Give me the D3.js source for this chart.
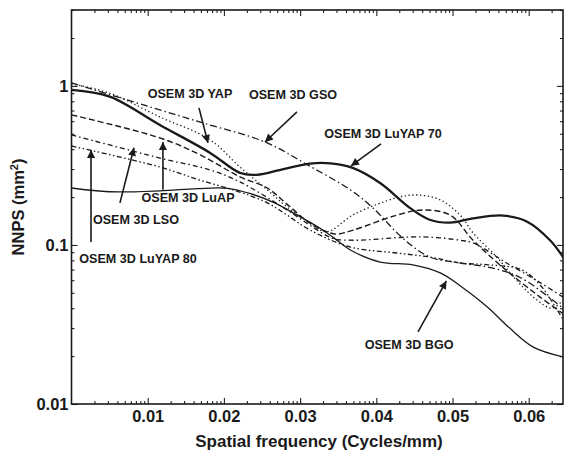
<!DOCTYPE html>
<html>
<head>
<meta charset="utf-8">
<script src="https://cdn.jsdelivr.net/npm/d3@7"></script>
<style>
  body { margin: 0; background: #fff; }
  text { font-family: "Liberation Sans", Arial, sans-serif; font-weight: bold; fill: #1a1a1a; }
</style>
</head>
<body>
<script>
// NNPS curves, values as [frequency, nnps]
const luyap70 = [[0,0.944],[0.005,0.856],[0.0116,0.568],[0.0182,0.379],[0.0221,0.284],[0.0243,0.276],[0.0278,0.300],[0.0313,0.325],[0.034,0.326],[0.0369,0.305],[0.0405,0.245],[0.0444,0.171],[0.047,0.144],[0.0497,0.138],[0.0527,0.147],[0.0566,0.153],[0.0598,0.140],[0.0628,0.107],[0.0645,0.084]];
const bgo = [[0,0.228],[0.005,0.216],[0.0116,0.219],[0.0165,0.226],[0.0205,0.227],[0.0235,0.21],[0.0265,0.185],[0.0295,0.155],[0.0323,0.130],[0.0343,0.112],[0.0366,0.093],[0.0405,0.078],[0.0448,0.075],[0.0484,0.0667],[0.051,0.0554],[0.0545,0.041],[0.0575,0.030],[0.0606,0.0228],[0.0645,0.0198]];
const yap = [[0,1.03],[0.005,0.90],[0.0116,0.638],[0.0182,0.458],[0.0221,0.309],[0.0257,0.222],[0.0283,0.173],[0.0313,0.137],[0.0335,0.121],[0.037,0.155],[0.0427,0.198],[0.0454,0.206],[0.0484,0.192],[0.051,0.154],[0.0527,0.119],[0.0558,0.084],[0.0584,0.060],[0.0611,0.045],[0.063,0.040],[0.0645,0.045]];
const gso = [[0,1.045],[0.0116,0.706],[0.0175,0.58],[0.0254,0.444],[0.031,0.318],[0.0366,0.222],[0.0396,0.17],[0.0435,0.11],[0.047,0.084],[0.051,0.077],[0.055,0.072],[0.059,0.062],[0.0645,0.040]];
const luap = [[0,0.657],[0.0116,0.471],[0.0169,0.368],[0.0221,0.268],[0.0257,0.228],[0.0283,0.18],[0.0313,0.137],[0.0335,0.121],[0.0348,0.117],[0.037,0.124],[0.0427,0.154],[0.0461,0.166],[0.0497,0.154],[0.0527,0.107],[0.0571,0.069],[0.0615,0.047],[0.0645,0.037]];
const lso = [[0,0.492],[0.0116,0.352],[0.0182,0.296],[0.0221,0.249],[0.0283,0.166],[0.0313,0.133],[0.0343,0.110],[0.037,0.107],[0.044,0.112],[0.047,0.112],[0.051,0.107],[0.0527,0.103],[0.0571,0.077],[0.0615,0.058],[0.0645,0.047]];
const luyap80 = [[0,0.419],[0.0116,0.309],[0.0168,0.256],[0.0221,0.215],[0.0257,0.184],[0.0283,0.154],[0.0313,0.124],[0.0366,0.097],[0.0427,0.089],[0.047,0.084],[0.051,0.077],[0.0547,0.075],[0.059,0.070],[0.0615,0.056],[0.0645,0.034]];

const xMajor = [0.01, 0.02, 0.03, 0.04, 0.05, 0.06];
const yMajor = [0.01, 0.1, 1];

// labels with arrows: label point, arrow start, arrow tip (data units)
const notes = [
  {text: "OSEM 3D YAP",      at: [0.01555, 0.891], from: [0.01673, 0.727], to: [0.01791, 0.438]},
  {text: "OSEM 3D GSO",      at: [0.02907, 0.878], from: [0.02959, 0.686], to: [0.02539, 0.444]},
  {text: "OSEM 3D LuYAP 70", at: [0.04088, 0.499], from: [0.04062, 0.432], to: [0.03668, 0.314]},
  {text: "OSEM 3D LuAP",     at: [0.01529, 0.198], from: [0.0120, 0.222],  to: [0.0120, 0.444]},
  {text: "OSEM 3D LSO",      at: [0.00846, 0.1436], from: [0.00636, 0.184], to: [0.0082, 0.408]},
  {text: "OSEM 3D LuYAP 80", at: [0.00873, 0.0817], from: [0.00256, 0.1045], to: [0.00256, 0.396]},
  {text: "OSEM 3D BGO",      at: [0.0443, 0.0235], from: [0.04547, 0.0284], to: [0.0492, 0.0594]}
];

const series = [
  {data: luyap70, width: 2.3, dash: null},
  {data: bgo, width: 1.3, dash: null},
  {data: yap, width: 1.3, dash: "1.3,2.6"},
  {data: gso, width: 1.3, dash: "7,3,1.5,3"},
  {data: luap, width: 1.4, dash: "6,3"},
  {data: lso, width: 1.3, dash: "5,3,1.5,3"},
  {data: luyap80, width: 1.3, dash: "5,2.5,1.5,2.5,1.5,2.5"}
];

const width = 565, height = 455;
const mLeft = 71.5, mRight = 563, mTop = 10, mBottom = 404;

const svg = d3.select("body").append("svg")
  .attr("width", width).attr("height", height);

const x = d3.scaleLinear().domain([0, 0.0645]).range([mLeft, mRight]);
const y = d3.scaleLog().domain([0.01, 3]).range([mBottom, mTop]);

// odd log-like minor ticks inside every 0.01 step, as in the original
let xMinor = [];
for (let i = 0; i < 7; i++) {
  for (let k = 2; k <= 9; k++) {
    let v = i * 0.01 + 0.01 * Math.log10(k);
    if (v < 0.0645) xMinor.push(v);
  }
}
let yMinor = [];
[0.01, 0.1, 1].forEach(d => {
  for (let k = 2; k <= 9; k++) if (d * k <= 3) yMinor.push(d * k);
});

let defs = svg.append("defs");
defs.append("clipPath").attr("id", "plot")
  .append("rect").attr("x", mLeft).attr("y", mTop)
  .attr("width", mRight - mLeft).attr("height", mBottom - mTop);

let marker = defs.append("marker")
  .attr("id", "head")
  .attr("viewBox", "0 0 10 10")
  .attr("refX", 10).attr("refY", 5)
  .attr("markerWidth", 11).attr("markerHeight", 8)
  .attr("markerUnits", "userSpaceOnUse")
  .attr("orient", "auto");
marker.append("path").attr("d", "M0,0L10,5L0,10Z").attr("fill", "#1a1a1a");

// axes, ticks pointing inward
function styleAxis(g) {
  g.select(".domain").remove();
  g.selectAll("line").attr("stroke", "#222").attr("stroke-width", 1.1);
  g.selectAll("text").style("font-size", "16.5px").attr("fill", "#1a1a1a");
}

svg.append("g").attr("transform", `translate(0,${mBottom})`)
  .call(d3.axisBottom(x).tickValues(xMajor).tickSize(-6).tickPadding(6).tickFormat(d3.format(".2f")))
  .call(styleAxis);
svg.append("g").attr("transform", `translate(0,${mBottom})`)
  .call(d3.axisBottom(x).tickValues(xMinor).tickSize(-3).tickFormat(""))
  .call(styleAxis);
svg.append("g").attr("transform", `translate(0,${mTop})`)
  .call(d3.axisTop(x).tickValues(xMajor).tickSize(-6).tickFormat(""))
  .call(styleAxis);
svg.append("g").attr("transform", `translate(0,${mTop})`)
  .call(d3.axisTop(x).tickValues(xMinor).tickSize(-3).tickFormat(""))
  .call(styleAxis);

svg.append("g").attr("transform", `translate(${mLeft},0)`)
  .call(d3.axisLeft(y).tickValues(yMajor).tickSize(-6).tickPadding(3).tickFormat(d => d3.format("~g")(d)))
  .call(styleAxis);
svg.append("g").attr("transform", `translate(${mLeft},0)`)
  .call(d3.axisLeft(y).tickValues(yMinor).tickSize(-3).tickFormat(""))
  .call(styleAxis);
svg.append("g").attr("transform", `translate(${mRight},0)`)
  .call(d3.axisRight(y).tickValues(yMajor).tickSize(-6).tickFormat(""))
  .call(styleAxis);
svg.append("g").attr("transform", `translate(${mRight},0)`)
  .call(d3.axisRight(y).tickValues(yMinor).tickSize(-3).tickFormat(""))
  .call(styleAxis);

// frame
svg.append("rect")
  .attr("x", mLeft).attr("y", mTop)
  .attr("width", mRight - mLeft).attr("height", mBottom - mTop)
  .attr("fill", "none").attr("stroke", "#1a1a1a").attr("stroke-width", 1.6);

// curves
const line = d3.line()
  .x(d => x(d[0]))
  .y(d => y(d[1]))
  .curve(d3.curveCatmullRom.alpha(0.5));

svg.append("g").attr("clip-path", "url(#plot)")
  .selectAll("path")
  .data(series)
  .enter()
  .append("path")
  .attr("d", d => line(d.data))
  .attr("fill", "none")
  .attr("stroke", "#1a1a1a")
  .attr("stroke-width", d => d.width)
  .attr("stroke-dasharray", d => d.dash);

// annotations
let ann = svg.append("g");
ann.selectAll("line")
  .data(notes)
  .enter()
  .append("line")
  .attr("x1", d => x(d.from[0])).attr("y1", d => y(d.from[1]))
  .attr("x2", d => x(d.to[0])).attr("y2", d => y(d.to[1]))
  .attr("stroke", "#1a1a1a").attr("stroke-width", 1.6)
  .attr("marker-end", "url(#head)");
ann.selectAll("text")
  .data(notes)
  .enter()
  .append("text")
  .attr("x", d => x(d.at[0])).attr("y", d => y(d.at[1]))
  .attr("text-anchor", "middle")
  .attr("dominant-baseline", "central")
  .style("font-size", "12.6px")
  .text(d => d.text);

// axis titles
svg.append("text")
  .attr("x", 319).attr("y", 447)
  .attr("text-anchor", "middle")
  .style("font-size", "17px")
  .text("Spatial frequency (Cycles/mm)");

let yt = svg.append("text")
  .attr("transform", `translate(24,${(mTop + mBottom) / 2}) rotate(-90)`)
  .attr("text-anchor", "middle")
  .style("font-size", "16.5px");
yt.append("tspan").text("NNPS (mm");
yt.append("tspan").attr("baseline-shift", "super").style("font-size", "11px").text("2");
yt.append("tspan").text(")");
</script>
</body>
</html>
